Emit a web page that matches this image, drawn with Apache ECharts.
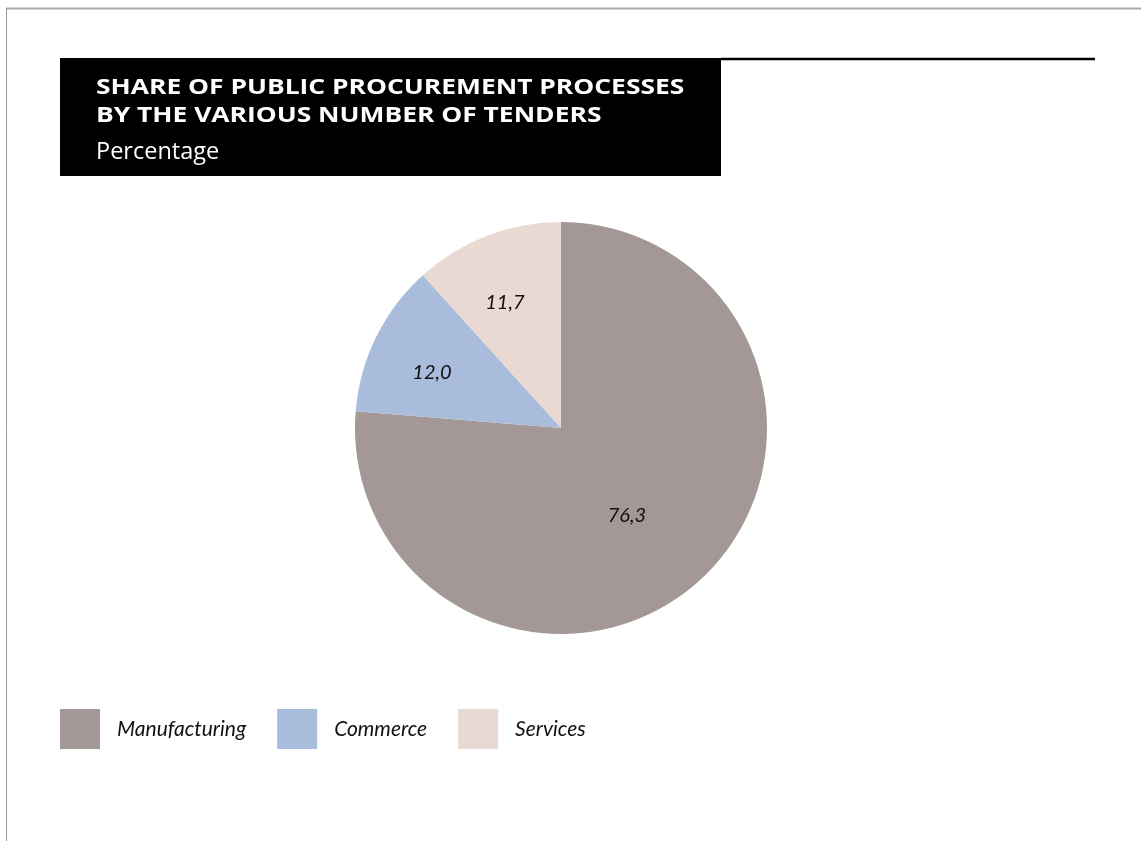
<!DOCTYPE html>
<html>
<head>
<meta charset="utf-8">
<script src="https://cdn.jsdelivr.net/npm/echarts@6/dist/echarts.min.js"></script>
<style>
html,body{margin:0;padding:0;background:#fff;}
#chart{width:1141px;height:841px;}
</style>
</head>
<body>
<div id="chart"></div>
<script>
const categories = ['Manufacturing', 'Commerce', 'Services'];
const values = [76.3, 12.0, 11.7];
const colors = ['#a39896', '#aabcdb', '#e8d9d2'];
const titleLines = ['SHARE OF PUBLIC PROCUREMENT PROCESSES', 'BY THE VARIOUS NUMBER OF TENDERS'];
const subtitle = 'Percentage';
const labelShift = [[-6, 10], [-34, -9], [-18, -27]];

const chart = echarts.init(document.getElementById('chart'), null, {renderer: 'canvas'});
const font = 'Lato';
const tFont = '"Open Sans"';

chart.setOption({
  animation: false,
  backgroundColor: '#ffffff',
  graphic: [
    {type: 'line', shape: {x1: 6, y1: 8.5, x2: 1141, y2: 8.5}, style: {stroke: '#aaaaaa', lineWidth: 2}},
    {type: 'line', shape: {x1: 6.5, y1: 8, x2: 6.5, y2: 841}, style: {stroke: '#999999', lineWidth: 1}},
    {type: 'rect', shape: {x: 60, y: 58, width: 661, height: 118}, style: {fill: '#000000'}},
    {type: 'line', shape: {x1: 721, y1: 59, x2: 1095, y2: 59}, style: {stroke: '#000000', lineWidth: 2.5}},
    {type: 'text', x: 96, y: 77, scaleX: 1.2, style: {text: titleLines[0], fill: '#ffffff', font: 'bold 22px ' + tFont}},
    {type: 'text', x: 96, y: 105, scaleX: 1.2, style: {text: titleLines[1], fill: '#ffffff', font: 'bold 22px ' + tFont}},
    {type: 'text', x: 96, y: 140, style: {text: subtitle, fill: '#ffffff', font: '23.5px ' + tFont}}
  ],
  legend: {
    left: 60,
    top: 709,
    padding: 0,
    orient: 'horizontal',
    itemWidth: 40,
    itemHeight: 40,
    itemGap: 31,
    icon: 'rect',
    data: categories,
    selectedMode: false,
    textStyle: {fontFamily: font, fontStyle: 'italic', fontSize: 21, color: '#111', padding: [0, 0, 0, 12]}
  },
  series: [{
    type: 'pie',
    center: [561, 428],
    radius: [0, 206],
    startAngle: 90,
    clockwise: true,
    data: categories.map((c, i) => ({name: c, value: values[i], itemStyle: {color: colors[i]}})),
    label: {
      show: true,
      position: 'inside',
      fontFamily: font,
      fontStyle: 'italic',
      fontSize: 20,
      color: '#111',
      formatter: p => p.value.toFixed(1).replace('.', ',')
    },
    labelLayout: p => ({dx: labelShift[p.dataIndex][0], dy: labelShift[p.dataIndex][1]}),
    labelLine: {show: false},
    emphasis: {disabled: true}
  }]
});
</script>
</body>
</html>
